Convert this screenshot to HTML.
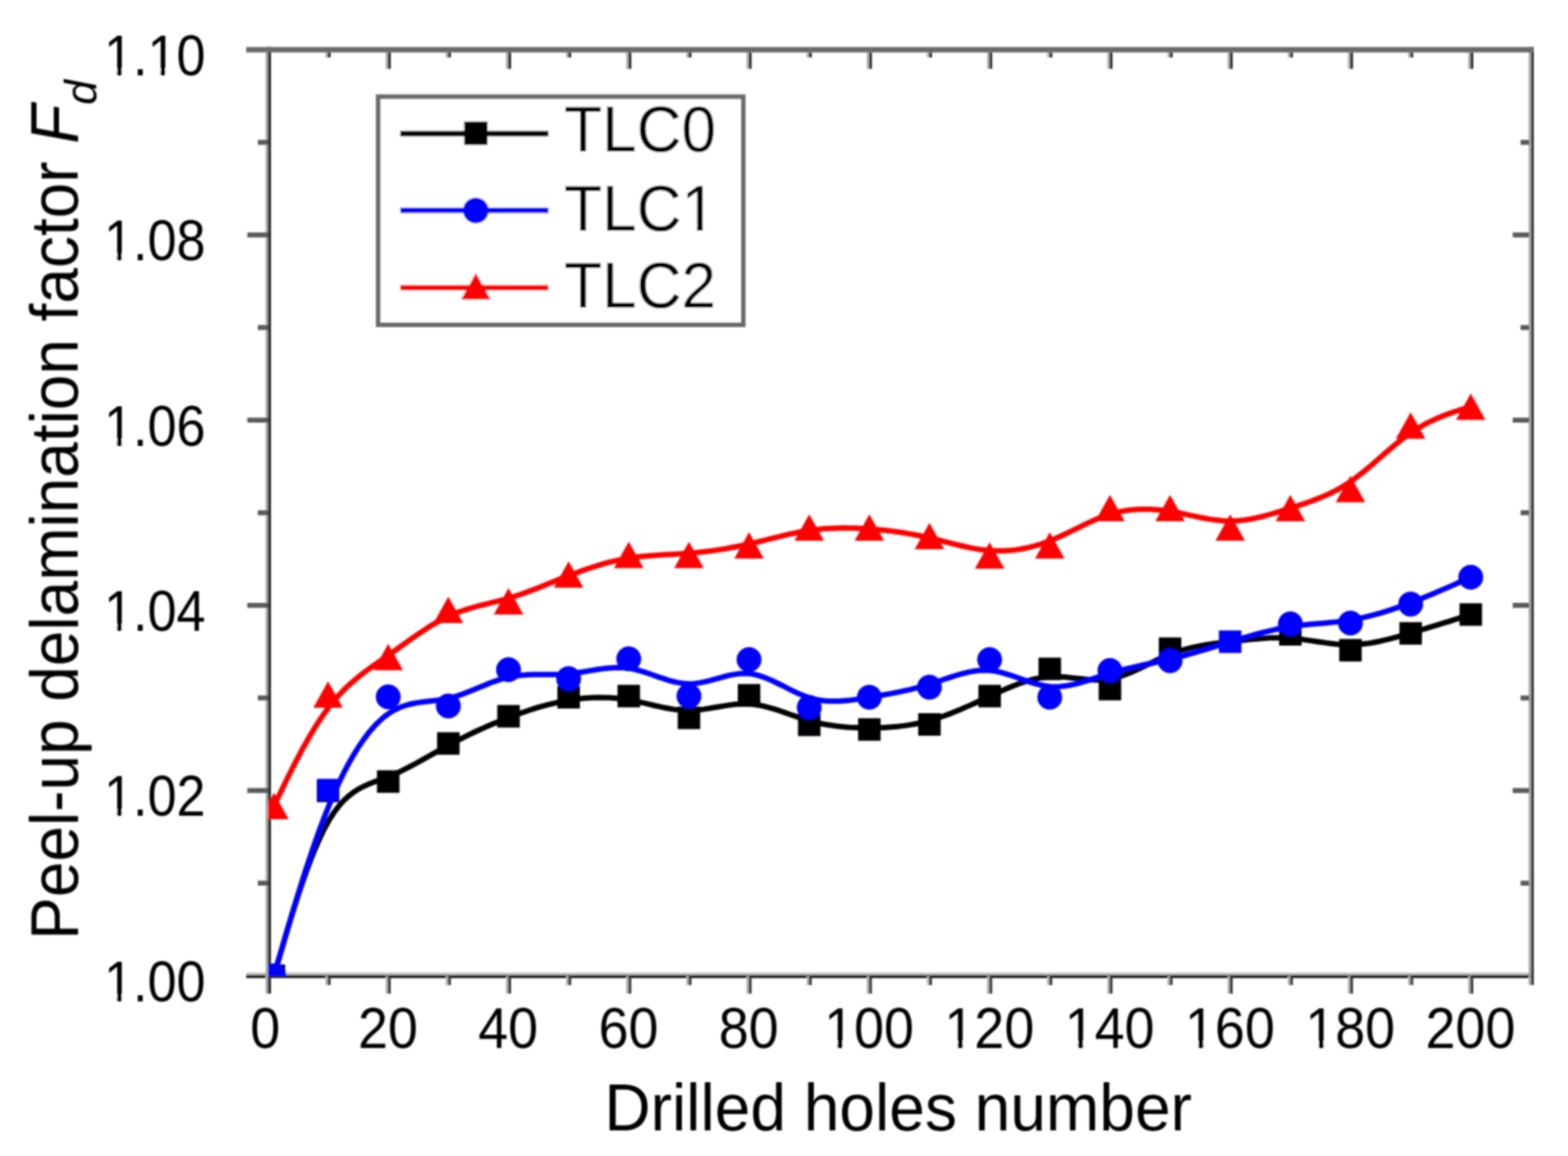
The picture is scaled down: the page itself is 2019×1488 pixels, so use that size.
<!DOCTYPE html>
<html><head><meta charset="utf-8"><title>Peel-up delamination factor vs drilled holes</title>
<style>html,body{margin:0;padding:0;background:#fff;overflow:hidden}svg{display:block}</style></head>
<body><svg width="2019" height="1488" viewBox="0 0 2019 1488">
<defs><filter id="soft" filterUnits="userSpaceOnUse" x="0" y="0" width="2019" height="1488"><feGaussianBlur stdDeviation="1.2"/></filter></defs>
<rect width="2019" height="1488" fill="#fff"/>
<g filter="url(#soft)">
<rect x="317" y="1252" width="1658" height="3" fill="#bdbdbd"/>
<rect x="317" y="1255" width="1658" height="4" fill="#222"/>
<rect x="342" y="60.5" width="3" height="1218.5" fill="#aaa"/>
<rect x="345" y="60.5" width="4" height="1218.5" fill="#333"/>
<rect x="1968.3" y="60.5" width="3.2" height="1207.5" fill="#aaa"/>
<rect x="1971.5" y="60.5" width="3.5" height="1207.5" fill="#333"/>
<rect x="332" y="1133.6" width="13" height="6.4" fill="#5a5a5a"/>
<rect x="1958" y="1133.6" width="11" height="6.4" fill="#5a5a5a"/>
<rect x="318.5" y="1014.4" width="26.5" height="6.4" fill="#5a5a5a"/>
<rect x="1947.8" y="1014.4" width="21.200000000000045" height="6.4" fill="#5a5a5a"/>
<rect x="332" y="895.2" width="13" height="6.4" fill="#5a5a5a"/>
<rect x="1958" y="895.2" width="11" height="6.4" fill="#5a5a5a"/>
<rect x="318.5" y="776.0" width="26.5" height="6.4" fill="#5a5a5a"/>
<rect x="1947.8" y="776.0" width="21.200000000000045" height="6.4" fill="#5a5a5a"/>
<rect x="332" y="656.8" width="13" height="6.4" fill="#5a5a5a"/>
<rect x="1958" y="656.8" width="11" height="6.4" fill="#5a5a5a"/>
<rect x="318.5" y="537.6" width="26.5" height="6.4" fill="#5a5a5a"/>
<rect x="1947.8" y="537.6" width="21.200000000000045" height="6.4" fill="#5a5a5a"/>
<rect x="332" y="418.4" width="13" height="6.4" fill="#5a5a5a"/>
<rect x="1958" y="418.4" width="11" height="6.4" fill="#5a5a5a"/>
<rect x="318.5" y="299.2" width="26.5" height="6.4" fill="#5a5a5a"/>
<rect x="1947.8" y="299.2" width="21.200000000000045" height="6.4" fill="#5a5a5a"/>
<rect x="332" y="180.0" width="13" height="6.4" fill="#5a5a5a"/>
<rect x="1958" y="180.0" width="11" height="6.4" fill="#5a5a5a"/>
<rect x="419.2" y="1256" width="3" height="12" fill="#aaa"/>
<rect x="422.2" y="1256" width="3.4" height="12" fill="#333"/>
<rect x="419.2" y="67.5" width="3" height="6.5" fill="#aaa"/>
<rect x="422.2" y="67.5" width="3.4" height="6.5" fill="#222"/>
<rect x="496.7" y="1256" width="3" height="23" fill="#aaa"/>
<rect x="499.7" y="1256" width="3.4" height="23" fill="#333"/>
<rect x="496.7" y="67.5" width="3" height="21.099999999999994" fill="#aaa"/>
<rect x="499.7" y="67.5" width="3.4" height="21.099999999999994" fill="#222"/>
<rect x="574.1" y="1256" width="3" height="12" fill="#aaa"/>
<rect x="577.1" y="1256" width="3.4" height="12" fill="#333"/>
<rect x="574.1" y="67.5" width="3" height="6.5" fill="#aaa"/>
<rect x="577.1" y="67.5" width="3.4" height="6.5" fill="#222"/>
<rect x="651.6" y="1256" width="3" height="23" fill="#aaa"/>
<rect x="654.6" y="1256" width="3.4" height="23" fill="#333"/>
<rect x="651.6" y="67.5" width="3" height="21.099999999999994" fill="#aaa"/>
<rect x="654.6" y="67.5" width="3.4" height="21.099999999999994" fill="#222"/>
<rect x="729.0" y="1256" width="3" height="12" fill="#aaa"/>
<rect x="732.0" y="1256" width="3.4" height="12" fill="#333"/>
<rect x="729.0" y="67.5" width="3" height="6.5" fill="#aaa"/>
<rect x="732.0" y="67.5" width="3.4" height="6.5" fill="#222"/>
<rect x="806.4" y="1256" width="3" height="23" fill="#aaa"/>
<rect x="809.4" y="1256" width="3.4" height="23" fill="#333"/>
<rect x="806.4" y="67.5" width="3" height="21.099999999999994" fill="#aaa"/>
<rect x="809.4" y="67.5" width="3.4" height="21.099999999999994" fill="#222"/>
<rect x="883.9" y="1256" width="3" height="12" fill="#aaa"/>
<rect x="886.9" y="1256" width="3.4" height="12" fill="#333"/>
<rect x="883.9" y="67.5" width="3" height="6.5" fill="#aaa"/>
<rect x="886.9" y="67.5" width="3.4" height="6.5" fill="#222"/>
<rect x="961.3" y="1256" width="3" height="23" fill="#aaa"/>
<rect x="964.3" y="1256" width="3.4" height="23" fill="#333"/>
<rect x="961.3" y="67.5" width="3" height="21.099999999999994" fill="#aaa"/>
<rect x="964.3" y="67.5" width="3.4" height="21.099999999999994" fill="#222"/>
<rect x="1038.8" y="1256" width="3" height="12" fill="#aaa"/>
<rect x="1041.8" y="1256" width="3.4" height="12" fill="#333"/>
<rect x="1038.8" y="67.5" width="3" height="6.5" fill="#aaa"/>
<rect x="1041.8" y="67.5" width="3.4" height="6.5" fill="#222"/>
<rect x="1116.2" y="1256" width="3" height="23" fill="#aaa"/>
<rect x="1119.2" y="1256" width="3.4" height="23" fill="#333"/>
<rect x="1116.2" y="67.5" width="3" height="21.099999999999994" fill="#aaa"/>
<rect x="1119.2" y="67.5" width="3.4" height="21.099999999999994" fill="#222"/>
<rect x="1193.6" y="1256" width="3" height="12" fill="#aaa"/>
<rect x="1196.6" y="1256" width="3.4" height="12" fill="#333"/>
<rect x="1193.6" y="67.5" width="3" height="6.5" fill="#aaa"/>
<rect x="1196.6" y="67.5" width="3.4" height="6.5" fill="#222"/>
<rect x="1271.1" y="1256" width="3" height="23" fill="#aaa"/>
<rect x="1274.1" y="1256" width="3.4" height="23" fill="#333"/>
<rect x="1271.1" y="67.5" width="3" height="21.099999999999994" fill="#aaa"/>
<rect x="1274.1" y="67.5" width="3.4" height="21.099999999999994" fill="#222"/>
<rect x="1348.5" y="1256" width="3" height="12" fill="#aaa"/>
<rect x="1351.5" y="1256" width="3.4" height="12" fill="#333"/>
<rect x="1348.5" y="67.5" width="3" height="6.5" fill="#aaa"/>
<rect x="1351.5" y="67.5" width="3.4" height="6.5" fill="#222"/>
<rect x="1426.0" y="1256" width="3" height="23" fill="#aaa"/>
<rect x="1429.0" y="1256" width="3.4" height="23" fill="#333"/>
<rect x="1426.0" y="67.5" width="3" height="21.099999999999994" fill="#aaa"/>
<rect x="1429.0" y="67.5" width="3.4" height="21.099999999999994" fill="#222"/>
<rect x="1503.4" y="1256" width="3" height="12" fill="#aaa"/>
<rect x="1506.4" y="1256" width="3.4" height="12" fill="#333"/>
<rect x="1503.4" y="67.5" width="3" height="6.5" fill="#aaa"/>
<rect x="1506.4" y="67.5" width="3.4" height="6.5" fill="#222"/>
<rect x="1580.8" y="1256" width="3" height="23" fill="#aaa"/>
<rect x="1583.8" y="1256" width="3.4" height="23" fill="#333"/>
<rect x="1580.8" y="67.5" width="3" height="21.099999999999994" fill="#aaa"/>
<rect x="1583.8" y="67.5" width="3.4" height="21.099999999999994" fill="#222"/>
<rect x="1658.3" y="1256" width="3" height="12" fill="#aaa"/>
<rect x="1661.3" y="1256" width="3.4" height="12" fill="#333"/>
<rect x="1658.3" y="67.5" width="3" height="6.5" fill="#aaa"/>
<rect x="1661.3" y="67.5" width="3.4" height="6.5" fill="#222"/>
<rect x="1735.7" y="1256" width="3" height="23" fill="#aaa"/>
<rect x="1738.7" y="1256" width="3.4" height="23" fill="#333"/>
<rect x="1735.7" y="67.5" width="3" height="21.099999999999994" fill="#aaa"/>
<rect x="1738.7" y="67.5" width="3.4" height="21.099999999999994" fill="#222"/>
<rect x="1813.2" y="1256" width="3" height="12" fill="#aaa"/>
<rect x="1816.2" y="1256" width="3.4" height="12" fill="#333"/>
<rect x="1813.2" y="67.5" width="3" height="6.5" fill="#aaa"/>
<rect x="1816.2" y="67.5" width="3.4" height="6.5" fill="#222"/>
<rect x="1890.6" y="1256" width="3" height="23" fill="#aaa"/>
<rect x="1893.6" y="1256" width="3.4" height="23" fill="#333"/>
<rect x="1890.6" y="67.5" width="3" height="21.099999999999994" fill="#aaa"/>
<rect x="1893.6" y="67.5" width="3.4" height="21.099999999999994" fill="#222"/>
<rect x="317" y="60.5" width="1658" height="7" fill="#6b6b6b"/>
<defs><clipPath id="pc"><rect x="345" y="64" width="1627" height="1192"/></clipPath></defs>
<g clip-path="url(#pc)">
<path d="M352.7,1256.0 L352.8,1256.0 L352.8,1255.8 L352.9,1255.4 L353.2,1254.5 L353.6,1253.1 L354.2,1251.0 L355.0,1248.1 L356.2,1244.2 L357.6,1239.3 L359.5,1233.0 L361.7,1225.4 L364.4,1216.3 L367.5,1205.6 L371.1,1193.6 L375.1,1180.4 L379.5,1166.3 L384.2,1151.7 L389.2,1136.8 L394.5,1121.8 L400.0,1107.0 L405.7,1092.8 L411.6,1079.3 L417.6,1066.8 L423.7,1055.7 L429.9,1046.0 L436.1,1037.8 L442.3,1030.8 L448.6,1024.9 L455.0,1020.0 L461.3,1015.9 L467.7,1012.5 L474.1,1009.6 L480.5,1007.0 L487.0,1004.6 L493.4,1002.3 L499.9,999.8 L506.3,997.2 L512.8,994.3 L519.2,991.2 L525.7,987.9 L532.1,984.5 L538.6,981.0 L545.1,977.4 L551.5,973.8 L558.0,970.1 L564.4,966.5 L570.9,962.9 L577.3,959.3 L583.8,955.9 L590.2,952.5 L596.7,949.3 L603.1,946.1 L609.6,943.0 L616.0,940.0 L622.5,937.1 L628.9,934.3 L635.4,931.5 L641.9,928.9 L648.3,926.3 L654.8,923.8 L661.2,921.3 L667.7,918.9 L674.1,916.7 L680.6,914.5 L687.0,912.4 L693.5,910.4 L699.9,908.6 L706.4,906.9 L712.8,905.3 L719.3,903.8 L725.7,902.5 L732.2,901.3 L738.7,900.3 L745.1,899.5 L751.6,898.8 L758.0,898.3 L764.5,898.0 L770.9,897.8 L777.4,897.9 L783.8,898.1 L790.3,898.5 L796.7,899.1 L803.2,899.9 L809.6,900.9 L816.1,902.1 L822.5,903.5 L829.0,904.9 L835.5,906.4 L841.9,908.0 L848.4,909.4 L854.8,910.8 L861.3,912.0 L867.7,913.1 L874.2,913.9 L880.6,914.4 L887.1,914.5 L893.5,914.3 L900.0,913.7 L906.4,912.9 L912.9,911.9 L919.3,910.8 L925.8,909.7 L932.3,908.6 L938.7,907.6 L945.2,906.8 L951.6,906.3 L958.1,906.0 L964.5,906.2 L971.0,906.8 L977.4,907.8 L983.9,909.1 L990.3,910.8 L996.8,912.7 L1003.2,914.7 L1009.7,916.9 L1016.1,919.2 L1022.6,921.4 L1029.1,923.6 L1035.5,925.7 L1042.0,927.7 L1048.4,929.4 L1054.9,930.9 L1061.3,932.2 L1067.8,933.3 L1074.2,934.3 L1080.7,935.1 L1087.1,935.7 L1093.6,936.2 L1100.0,936.5 L1106.5,936.8 L1112.9,936.9 L1119.4,936.9 L1125.9,936.9 L1132.3,936.7 L1138.8,936.4 L1145.2,936.0 L1151.7,935.5 L1158.1,934.9 L1164.6,934.1 L1171.0,933.1 L1177.5,932.0 L1183.9,930.7 L1190.4,929.2 L1196.8,927.5 L1203.3,925.6 L1209.7,923.5 L1216.2,921.3 L1222.7,918.9 L1229.1,916.3 L1235.6,913.7 L1242.0,910.9 L1248.5,908.1 L1254.9,905.2 L1261.4,902.2 L1267.8,899.2 L1274.3,896.2 L1280.7,893.3 L1287.2,890.4 L1293.6,887.5 L1300.1,884.8 L1306.5,882.2 L1313.0,879.8 L1319.5,877.6 L1325.9,875.7 L1332.4,874.0 L1338.8,872.7 L1345.3,871.7 L1351.7,871.2 L1358.2,871.0 L1364.6,871.2 L1371.1,871.6 L1377.5,872.2 L1384.0,872.9 L1390.4,873.6 L1396.9,874.3 L1403.3,874.9 L1409.8,875.2 L1416.3,875.2 L1422.7,874.8 L1429.2,874.0 L1435.6,872.7 L1442.1,870.8 L1448.5,868.6 L1455.0,866.1 L1461.4,863.3 L1467.9,860.3 L1474.3,857.1 L1480.8,854.0 L1487.2,850.8 L1493.7,847.8 L1500.1,844.8 L1506.6,842.2 L1513.1,839.8 L1519.5,837.6 L1526.0,835.8 L1532.4,834.1 L1538.9,832.7 L1545.3,831.4 L1551.8,830.3 L1558.2,829.2 L1564.7,828.3 L1571.1,827.5 L1577.6,826.7 L1584.0,825.9 L1590.5,825.1 L1596.9,824.4 L1603.4,823.7 L1609.9,823.0 L1616.3,822.4 L1622.8,821.9 L1629.2,821.4 L1635.7,821.1 L1642.1,821.0 L1648.6,821.0 L1655.0,821.1 L1661.5,821.5 L1667.9,822.1 L1674.4,822.8 L1680.8,823.6 L1687.3,824.6 L1693.7,825.5 L1700.2,826.5 L1706.7,827.4 L1713.1,828.3 L1719.6,829.0 L1726.0,829.5 L1732.5,829.9 L1738.9,830.0 L1745.4,829.8 L1751.8,829.3 L1758.3,828.6 L1764.7,827.7 L1771.2,826.5 L1777.6,825.2 L1784.1,823.7 L1790.5,822.1 L1797.0,820.4 L1803.5,818.6 L1809.9,816.8 L1816.4,814.9 L1822.8,812.9 L1829.2,811.0 L1835.5,809.1 L1841.7,807.2 L1847.7,805.4 L1853.5,803.6 L1859.0,801.9 L1864.2,800.3 L1869.0,798.8 L1873.4,797.4 L1877.4,796.1 L1880.9,795.0 L1884.1,794.0 L1886.7,793.2 L1888.8,792.6 L1890.5,792.0 L1891.7,791.7 L1892.6,791.4 L1893.2,791.2 L1893.5,791.1 L1893.7,791.0 L1893.8,791.0 L1893.8,791.0" fill="none" stroke="#000" stroke-width="7" stroke-linejoin="round"/>
<rect x="338.2" y="1241.5" width="29" height="29" fill="#000"/>
<rect x="407.9" y="1003.5" width="29" height="29" fill="#000"/>
<rect x="485.4" y="991.5" width="29" height="29" fill="#000"/>
<rect x="562.8" y="942.5" width="29" height="29" fill="#000"/>
<rect x="640.3" y="907.5" width="29" height="29" fill="#000"/>
<rect x="717.7" y="883.0" width="29" height="29" fill="#000"/>
<rect x="795.1" y="881.5" width="29" height="29" fill="#000"/>
<rect x="872.6" y="909.5" width="29" height="29" fill="#000"/>
<rect x="950.0" y="880.5" width="29" height="29" fill="#000"/>
<rect x="1027.5" y="918.5" width="29" height="29" fill="#000"/>
<rect x="1104.9" y="924.5" width="29" height="29" fill="#000"/>
<rect x="1182.3" y="918.0" width="29" height="29" fill="#000"/>
<rect x="1259.8" y="881.5" width="29" height="29" fill="#000"/>
<rect x="1337.2" y="846.5" width="29" height="29" fill="#000"/>
<rect x="1414.7" y="872.5" width="29" height="29" fill="#000"/>
<rect x="1492.1" y="820.5" width="29" height="29" fill="#000"/>
<rect x="1569.5" y="811.5" width="29" height="29" fill="#000"/>
<rect x="1647.0" y="802.0" width="29" height="29" fill="#000"/>
<rect x="1724.4" y="822.5" width="29" height="29" fill="#000"/>
<rect x="1801.9" y="800.8" width="29" height="29" fill="#000"/>
<rect x="1879.3" y="776.5" width="29" height="29" fill="#000"/>
<path d="M352.7,1256.0 L352.8,1256.0 L352.8,1255.8 L352.9,1255.4 L353.2,1254.5 L353.6,1253.1 L354.2,1251.0 L355.0,1248.1 L356.2,1244.2 L357.6,1239.2 L359.5,1232.9 L361.7,1225.3 L364.4,1216.1 L367.5,1205.3 L371.1,1193.1 L375.1,1179.6 L379.5,1165.1 L384.2,1149.7 L389.2,1133.8 L394.5,1117.4 L400.0,1100.8 L405.7,1084.2 L411.6,1067.8 L417.6,1051.8 L423.7,1036.5 L429.9,1022.0 L436.1,1008.3 L442.3,995.4 L448.6,983.4 L455.0,972.3 L461.3,962.0 L467.7,952.6 L474.1,944.1 L480.5,936.4 L487.0,929.7 L493.4,923.8 L499.9,918.9 L506.3,914.8 L512.8,911.6 L519.2,909.0 L525.7,907.0 L532.1,905.5 L538.6,904.4 L545.1,903.5 L551.5,902.7 L558.0,902.0 L564.4,901.2 L570.9,900.2 L577.3,899.0 L583.8,897.3 L590.2,895.3 L596.7,893.1 L603.1,890.6 L609.6,888.0 L616.0,885.3 L622.5,882.7 L628.9,880.1 L635.4,877.6 L641.9,875.4 L648.3,873.4 L654.8,871.7 L661.2,870.4 L667.7,869.5 L674.1,868.9 L680.6,868.5 L687.0,868.3 L693.5,868.2 L699.9,868.2 L706.4,868.2 L712.8,868.2 L719.3,868.1 L725.7,867.8 L732.2,867.3 L738.7,866.6 L745.1,865.7 L751.6,864.7 L758.0,863.6 L764.5,862.5 L770.9,861.5 L777.4,860.6 L783.8,859.9 L790.3,859.4 L796.7,859.3 L803.2,859.6 L809.6,860.2 L816.1,861.4 L822.5,863.0 L829.0,864.9 L835.5,867.0 L841.9,869.3 L848.4,871.6 L854.8,873.7 L861.3,875.8 L867.7,877.5 L874.2,878.9 L880.6,879.8 L887.1,880.2 L893.5,879.9 L900.0,879.1 L906.4,877.9 L912.9,876.3 L919.3,874.6 L925.8,872.8 L932.3,871.0 L938.7,869.4 L945.2,868.1 L951.6,867.2 L958.1,866.8 L964.5,867.1 L971.0,868.0 L977.4,869.7 L983.9,871.8 L990.3,874.4 L996.8,877.3 L1003.2,880.5 L1009.7,883.7 L1016.1,887.0 L1022.6,890.2 L1029.1,893.1 L1035.5,895.8 L1042.0,898.1 L1048.4,899.9 L1054.9,901.1 L1061.3,902.0 L1067.8,902.5 L1074.2,902.6 L1080.7,902.5 L1087.1,902.0 L1093.6,901.4 L1100.0,900.6 L1106.5,899.6 L1112.9,898.6 L1119.4,897.5 L1125.9,896.4 L1132.3,895.3 L1138.8,894.2 L1145.2,893.1 L1151.7,891.9 L1158.1,890.6 L1164.6,889.2 L1171.0,887.8 L1177.5,886.2 L1183.9,884.6 L1190.4,882.8 L1196.8,880.8 L1203.3,878.7 L1209.7,876.5 L1216.2,874.3 L1222.7,872.1 L1229.1,870.0 L1235.6,868.1 L1242.0,866.3 L1248.5,864.9 L1254.9,863.8 L1261.4,863.0 L1267.8,862.8 L1274.3,863.0 L1280.7,863.8 L1287.2,865.1 L1293.6,866.8 L1300.1,868.8 L1306.5,871.0 L1313.0,873.3 L1319.5,875.6 L1325.9,877.8 L1332.4,879.8 L1338.8,881.5 L1345.3,882.8 L1351.7,883.7 L1358.2,884.0 L1364.6,883.8 L1371.1,883.1 L1377.5,882.0 L1384.0,880.6 L1390.4,879.0 L1396.9,877.1 L1403.3,875.1 L1409.8,872.9 L1416.3,870.8 L1422.7,868.7 L1429.2,866.6 L1435.6,864.8 L1442.1,863.0 L1448.5,861.4 L1455.0,859.8 L1461.4,858.3 L1467.9,856.9 L1474.3,855.5 L1480.8,854.2 L1487.2,852.8 L1493.7,851.4 L1500.1,849.9 L1506.6,848.4 L1513.1,846.9 L1519.5,845.2 L1526.0,843.5 L1532.4,841.7 L1538.9,839.9 L1545.3,838.0 L1551.8,836.1 L1558.2,834.1 L1564.7,832.2 L1571.1,830.2 L1577.6,828.2 L1584.0,826.2 L1590.5,824.3 L1596.9,822.3 L1603.4,820.4 L1609.9,818.5 L1616.3,816.7 L1622.8,815.0 L1629.2,813.3 L1635.7,811.8 L1642.1,810.3 L1648.6,809.0 L1655.0,807.7 L1661.5,806.7 L1667.9,805.7 L1674.4,804.9 L1680.8,804.2 L1687.3,803.6 L1693.7,803.0 L1700.2,802.5 L1706.7,801.9 L1713.1,801.3 L1719.6,800.7 L1726.0,799.9 L1732.5,799.1 L1738.9,798.1 L1745.4,797.0 L1751.8,795.7 L1758.3,794.2 L1764.7,792.6 L1771.2,790.9 L1777.6,789.1 L1784.1,787.1 L1790.5,785.1 L1797.0,782.9 L1803.5,780.7 L1809.9,778.3 L1816.4,775.9 L1822.8,773.4 L1829.2,770.9 L1835.5,768.3 L1841.7,765.8 L1847.7,763.3 L1853.5,760.8 L1859.0,758.4 L1864.2,756.2 L1869.0,754.1 L1873.4,752.1 L1877.4,750.3 L1880.9,748.8 L1884.1,747.3 L1886.7,746.2 L1888.8,745.2 L1890.5,744.5 L1891.7,743.9 L1892.6,743.5 L1893.2,743.3 L1893.5,743.1 L1893.7,743.0 L1893.8,743.0 L1893.8,743.0" fill="none" stroke="#00f" stroke-width="7" stroke-linejoin="round"/>
<circle cx="352.7" cy="1256.0" r="16" fill="#00f"/>
<rect x="408.4" y="1002.5" width="28" height="28" fill="#00f"/>
<circle cx="499.9" cy="897.0" r="16" fill="#00f"/>
<circle cx="577.3" cy="908.7" r="16" fill="#00f"/>
<circle cx="654.8" cy="862.0" r="16" fill="#00f"/>
<circle cx="732.2" cy="873.5" r="16" fill="#00f"/>
<circle cx="809.6" cy="848.0" r="16" fill="#00f"/>
<circle cx="887.1" cy="896.0" r="16" fill="#00f"/>
<circle cx="964.5" cy="849.0" r="16" fill="#00f"/>
<circle cx="1042.0" cy="910.5" r="16" fill="#00f"/>
<circle cx="1119.4" cy="897.5" r="16" fill="#00f"/>
<circle cx="1196.8" cy="884.6" r="16" fill="#00f"/>
<circle cx="1274.3" cy="849.0" r="16" fill="#00f"/>
<circle cx="1351.7" cy="897.5" r="16" fill="#00f"/>
<circle cx="1429.2" cy="863.0" r="16" fill="#00f"/>
<circle cx="1506.6" cy="850.4" r="16" fill="#00f"/>
<rect x="1570.0" y="812.0" width="28" height="28" fill="#00f"/>
<circle cx="1661.5" cy="803.0" r="16" fill="#00f"/>
<circle cx="1738.9" cy="802.0" r="16" fill="#00f"/>
<circle cx="1816.4" cy="777.6" r="16" fill="#00f"/>
<circle cx="1893.8" cy="743.0" r="16" fill="#00f"/>
<path d="M352.7,1037.5 L352.8,1037.5 L352.8,1037.4 L352.9,1037.1 L353.2,1036.6 L353.6,1035.8 L354.2,1034.5 L355.0,1032.8 L356.2,1030.4 L357.6,1027.4 L359.5,1023.7 L361.7,1019.1 L364.4,1013.6 L367.5,1007.1 L371.1,999.8 L375.1,991.8 L379.5,983.2 L384.2,974.1 L389.2,964.7 L394.5,955.2 L400.0,945.6 L405.7,936.2 L411.6,927.0 L417.6,918.2 L423.7,909.9 L429.9,902.2 L436.1,895.1 L442.3,888.6 L448.6,882.5 L455.0,876.9 L461.3,871.6 L467.7,866.6 L474.1,861.8 L480.5,857.2 L487.0,852.6 L493.4,848.1 L499.9,843.6 L506.3,839.1 L512.8,834.4 L519.2,829.8 L525.7,825.2 L532.1,820.6 L538.6,816.1 L545.1,811.8 L551.5,807.6 L558.0,803.6 L564.4,799.9 L570.9,796.4 L577.3,793.3 L583.8,790.5 L590.2,787.9 L596.7,785.7 L603.1,783.6 L609.6,781.8 L616.0,780.0 L622.5,778.4 L628.9,776.8 L635.4,775.2 L641.9,773.6 L648.3,771.9 L654.8,770.1 L661.2,768.1 L667.7,766.0 L674.1,763.7 L680.6,761.4 L687.0,759.0 L693.5,756.5 L699.9,753.9 L706.4,751.3 L712.8,748.7 L719.3,746.1 L725.7,743.6 L732.2,741.0 L738.7,738.6 L745.1,736.2 L751.6,733.9 L758.0,731.7 L764.5,729.6 L770.9,727.6 L777.4,725.7 L783.8,723.9 L790.3,722.3 L796.7,720.9 L803.2,719.6 L809.6,718.4 L816.1,717.4 L822.5,716.6 L829.0,715.9 L835.5,715.4 L841.9,714.9 L848.4,714.5 L854.8,714.1 L861.3,713.8 L867.7,713.4 L874.2,713.0 L880.6,712.6 L887.1,712.2 L893.5,711.6 L900.0,711.0 L906.4,710.3 L912.9,709.5 L919.3,708.6 L925.8,707.6 L932.3,706.6 L938.7,705.5 L945.2,704.3 L951.6,703.0 L958.1,701.6 L964.5,700.2 L971.0,698.7 L977.4,697.1 L983.9,695.6 L990.3,693.9 L996.8,692.3 L1003.2,690.8 L1009.7,689.2 L1016.1,687.7 L1022.6,686.3 L1029.1,685.0 L1035.5,683.9 L1042.0,682.8 L1048.4,682.0 L1054.9,681.2 L1061.3,680.6 L1067.8,680.2 L1074.2,679.9 L1080.7,679.7 L1087.1,679.6 L1093.6,679.7 L1100.0,679.8 L1106.5,680.1 L1112.9,680.4 L1119.4,680.8 L1125.9,681.3 L1132.3,681.9 L1138.8,682.6 L1145.2,683.3 L1151.7,684.1 L1158.1,685.0 L1164.6,686.0 L1171.0,687.1 L1177.5,688.3 L1183.9,689.5 L1190.4,690.9 L1196.8,692.3 L1203.3,693.9 L1209.7,695.5 L1216.2,697.1 L1222.7,698.8 L1229.1,700.4 L1235.6,702.0 L1242.0,703.5 L1248.5,704.9 L1254.9,706.1 L1261.4,707.2 L1267.8,708.0 L1274.3,708.7 L1280.7,709.0 L1287.2,709.1 L1293.6,709.0 L1300.1,708.6 L1306.5,707.9 L1313.0,707.0 L1319.5,705.8 L1325.9,704.4 L1332.4,702.7 L1338.8,700.8 L1345.3,698.6 L1351.7,696.2 L1358.2,693.5 L1364.6,690.7 L1371.1,687.7 L1377.5,684.6 L1384.0,681.4 L1390.4,678.3 L1396.9,675.2 L1403.3,672.2 L1409.8,669.3 L1416.3,666.6 L1422.7,664.2 L1429.2,662.0 L1435.6,660.2 L1442.1,658.6 L1448.5,657.4 L1455.0,656.5 L1461.4,655.9 L1467.9,655.5 L1474.3,655.4 L1480.8,655.5 L1487.2,655.9 L1493.7,656.4 L1500.1,657.2 L1506.6,658.2 L1513.1,659.3 L1519.5,660.5 L1526.0,661.9 L1532.4,663.3 L1538.9,664.6 L1545.3,666.0 L1551.8,667.2 L1558.2,668.4 L1564.7,669.3 L1571.1,670.0 L1577.6,670.5 L1584.0,670.7 L1590.5,670.5 L1596.9,670.0 L1603.4,669.2 L1609.9,668.2 L1616.3,666.9 L1622.8,665.5 L1629.2,663.8 L1635.7,662.0 L1642.1,660.2 L1648.6,658.2 L1655.0,656.1 L1661.5,654.1 L1667.9,652.0 L1674.4,649.9 L1680.8,647.8 L1687.3,645.5 L1693.7,643.1 L1700.2,640.6 L1706.7,637.8 L1713.1,634.8 L1719.6,631.6 L1726.0,628.1 L1732.5,624.2 L1738.9,619.9 L1745.4,615.3 L1751.8,610.4 L1758.3,605.2 L1764.7,599.8 L1771.2,594.2 L1777.6,588.6 L1784.1,583.0 L1790.5,577.5 L1797.0,572.0 L1803.5,566.8 L1809.9,561.9 L1816.4,557.3 L1822.8,553.1 L1829.2,549.2 L1835.5,545.7 L1841.7,542.6 L1847.7,539.8 L1853.5,537.3 L1859.0,535.0 L1864.2,533.1 L1869.0,531.3 L1873.4,529.8 L1877.4,528.6 L1880.9,527.4 L1884.1,526.4 L1886.7,525.6 L1888.8,525.0 L1890.5,524.4 L1891.7,524.1 L1892.6,523.8 L1893.2,523.6 L1893.5,523.5 L1893.7,523.4 L1893.8,523.4 L1893.8,523.4" fill="none" stroke="#f00" stroke-width="7" stroke-linejoin="round"/>
<path d="M352.7,1020.5 L371.7,1054.5 L333.7,1054.5 Z" fill="#f00"/>
<path d="M422.4,877.0 L441.4,911.0 L403.4,911.0 Z" fill="#f00"/>
<path d="M499.9,828.7 L518.9,862.7 L480.9,862.7 Z" fill="#f00"/>
<path d="M577.3,768.0 L596.3,802.0 L558.3,802.0 Z" fill="#f00"/>
<path d="M654.8,757.0 L673.8,791.0 L635.8,791.0 Z" fill="#f00"/>
<path d="M732.2,722.5 L751.2,756.5 L713.2,756.5 Z" fill="#f00"/>
<path d="M809.6,697.2 L828.6,731.2 L790.6,731.2 Z" fill="#f00"/>
<path d="M887.1,697.2 L906.1,731.2 L868.1,731.2 Z" fill="#f00"/>
<path d="M964.5,685.0 L983.5,719.0 L945.5,719.0 Z" fill="#f00"/>
<path d="M1042.0,662.0 L1061.0,696.0 L1023.0,696.0 Z" fill="#f00"/>
<path d="M1119.4,662.0 L1138.4,696.0 L1100.4,696.0 Z" fill="#f00"/>
<path d="M1196.8,673.0 L1215.8,707.0 L1177.8,707.0 Z" fill="#f00"/>
<path d="M1274.3,698.0 L1293.3,732.0 L1255.3,732.0 Z" fill="#f00"/>
<path d="M1351.7,685.0 L1370.7,719.0 L1332.7,719.0 Z" fill="#f00"/>
<path d="M1429.2,637.0 L1448.2,671.0 L1410.2,671.0 Z" fill="#f00"/>
<path d="M1506.6,637.0 L1525.6,671.0 L1487.6,671.0 Z" fill="#f00"/>
<path d="M1584.0,662.0 L1603.0,696.0 L1565.0,696.0 Z" fill="#f00"/>
<path d="M1661.5,637.0 L1680.5,671.0 L1642.5,671.0 Z" fill="#f00"/>
<path d="M1738.9,612.5 L1757.9,646.5 L1719.9,646.5 Z" fill="#f00"/>
<path d="M1816.4,530.7 L1835.4,564.7 L1797.4,564.7 Z" fill="#f00"/>
<path d="M1893.8,506.4 L1912.8,540.4 L1874.8,540.4 Z" fill="#f00"/>
</g>
<rect x="487" y="124.5" width="470" height="293.5" fill="#fff" stroke="#6b6b6b" stroke-width="6"/>
<rect x="515.5" y="168.5" width="190.7" height="7" fill="#000"/>
<rect x="515.5" y="267.3" width="190.7" height="7" fill="#00f"/>
<rect x="515.5" y="366.8" width="190.7" height="7" fill="#f00"/>
<rect x="597.7" y="156.5" width="30" height="30" fill="#000"/>
<circle cx="612.7" cy="271" r="16.6" fill="#00f"/>
<path d="M612.7,351.5 L631.7,385.5 L593.7,385.5 Z" fill="#f00"/>
<text transform="translate(726.24,195.17) scale(0.9614,1)" font-size="83.33" text-anchor="start" fill="#000" font-family="Liberation Sans, Arial, sans-serif">TLC0</text>
<text transform="translate(726.24,297.47) scale(0.9614,1)" font-size="83.33" text-anchor="start" fill="#000" font-family="Liberation Sans, Arial, sans-serif">TLC1</text>
<text transform="translate(726.24,396.07) scale(0.9614,1)" font-size="83.33" text-anchor="start" fill="#000" font-family="Liberation Sans, Arial, sans-serif">TLC2</text>
<text transform="translate(264.64,1288.76) scale(0.9059,1)" font-size="74.15" text-anchor="end" fill="#000" font-family="Liberation Sans, Arial, sans-serif">1.00</text>
<text transform="translate(264.64,1050.36) scale(0.9059,1)" font-size="74.15" text-anchor="end" fill="#000" font-family="Liberation Sans, Arial, sans-serif">1.02</text>
<text transform="translate(264.64,811.96) scale(0.9059,1)" font-size="74.15" text-anchor="end" fill="#000" font-family="Liberation Sans, Arial, sans-serif">1.04</text>
<text transform="translate(264.64,573.56) scale(0.9059,1)" font-size="74.15" text-anchor="end" fill="#000" font-family="Liberation Sans, Arial, sans-serif">1.06</text>
<text transform="translate(264.64,335.16) scale(0.9059,1)" font-size="74.15" text-anchor="end" fill="#000" font-family="Liberation Sans, Arial, sans-serif">1.08</text>
<text transform="translate(264.64,96.76) scale(0.9059,1)" font-size="74.15" text-anchor="end" fill="#000" font-family="Liberation Sans, Arial, sans-serif">1.10</text>
<text transform="translate(341.58,1348.76) scale(0.9352,1)" font-size="74.15" text-anchor="middle" fill="#000" font-family="Liberation Sans, Arial, sans-serif">0</text>
<text transform="translate(499.46,1348.76) scale(0.9352,1)" font-size="74.15" text-anchor="middle" fill="#000" font-family="Liberation Sans, Arial, sans-serif">20</text>
<text transform="translate(654.34,1348.76) scale(0.9352,1)" font-size="74.15" text-anchor="middle" fill="#000" font-family="Liberation Sans, Arial, sans-serif">40</text>
<text transform="translate(809.22,1348.76) scale(0.9352,1)" font-size="74.15" text-anchor="middle" fill="#000" font-family="Liberation Sans, Arial, sans-serif">60</text>
<text transform="translate(964.10,1348.76) scale(0.9352,1)" font-size="74.15" text-anchor="middle" fill="#000" font-family="Liberation Sans, Arial, sans-serif">80</text>
<text transform="translate(1118.98,1348.76) scale(0.9352,1)" font-size="74.15" text-anchor="middle" fill="#000" font-family="Liberation Sans, Arial, sans-serif">100</text>
<text transform="translate(1273.86,1348.76) scale(0.9352,1)" font-size="74.15" text-anchor="middle" fill="#000" font-family="Liberation Sans, Arial, sans-serif">120</text>
<text transform="translate(1428.74,1348.76) scale(0.9352,1)" font-size="74.15" text-anchor="middle" fill="#000" font-family="Liberation Sans, Arial, sans-serif">140</text>
<text transform="translate(1583.62,1348.76) scale(0.9352,1)" font-size="74.15" text-anchor="middle" fill="#000" font-family="Liberation Sans, Arial, sans-serif">160</text>
<text transform="translate(1738.50,1348.76) scale(0.9352,1)" font-size="74.15" text-anchor="middle" fill="#000" font-family="Liberation Sans, Arial, sans-serif">180</text>
<text transform="translate(1893.38,1348.76) scale(0.9352,1)" font-size="74.15" text-anchor="middle" fill="#000" font-family="Liberation Sans, Arial, sans-serif">200</text>
<text transform="translate(778.23,1455.44) scale(0.9592,1)" font-size="86.01" text-anchor="start" fill="#000" font-family="Liberation Sans, Arial, sans-serif">Drilled holes number</text>
<text transform="translate(100,1209.75) rotate(-90) scale(0.9519,1)" font-size="86.48" fill="#000" font-family="Liberation Sans, Arial, sans-serif">Peel-up delamination factor <tspan font-style="italic">F</tspan></text>
<text transform="translate(123.92,134.95) rotate(-90) scale(0.9941,1)" font-size="57.82" font-style="italic" fill="#000" font-family="Liberation Sans, Arial, sans-serif">d</text>
<rect x="882.29" y="288.11" width="15.26" height="10.17" fill="#fff"/>
<rect x="905.02" y="288.11" width="14.44" height="10.17" fill="#fff"/>
<rect x="137.83" y="1280.43" width="12.79" height="9.05" fill="#fff"/>
<rect x="156.89" y="1280.43" width="12.10" height="9.05" fill="#fff"/>
<rect x="137.83" y="1042.03" width="12.79" height="9.05" fill="#fff"/>
<rect x="156.89" y="1042.03" width="12.10" height="9.05" fill="#fff"/>
<rect x="137.83" y="803.63" width="12.79" height="9.05" fill="#fff"/>
<rect x="156.89" y="803.63" width="12.10" height="9.05" fill="#fff"/>
<rect x="137.83" y="565.23" width="12.79" height="9.05" fill="#fff"/>
<rect x="156.89" y="565.23" width="12.10" height="9.05" fill="#fff"/>
<rect x="137.83" y="326.83" width="12.79" height="9.05" fill="#fff"/>
<rect x="156.89" y="326.83" width="12.10" height="9.05" fill="#fff"/>
<rect x="137.83" y="88.43" width="12.79" height="9.05" fill="#fff"/>
<rect x="156.89" y="88.43" width="12.10" height="9.05" fill="#fff"/>
<rect x="193.86" y="88.43" width="12.79" height="9.05" fill="#fff"/>
<rect x="212.91" y="88.43" width="12.10" height="9.05" fill="#fff"/>
<rect x="1065.20" y="1340.43" width="13.21" height="9.05" fill="#fff"/>
<rect x="1084.87" y="1340.43" width="12.49" height="9.05" fill="#fff"/>
<rect x="1220.08" y="1340.43" width="13.21" height="9.05" fill="#fff"/>
<rect x="1239.75" y="1340.43" width="12.49" height="9.05" fill="#fff"/>
<rect x="1374.96" y="1340.43" width="13.21" height="9.05" fill="#fff"/>
<rect x="1394.63" y="1340.43" width="12.49" height="9.05" fill="#fff"/>
<rect x="1529.84" y="1340.43" width="13.21" height="9.05" fill="#fff"/>
<rect x="1549.51" y="1340.43" width="12.49" height="9.05" fill="#fff"/>
<rect x="1684.72" y="1340.43" width="13.21" height="9.05" fill="#fff"/>
<rect x="1704.39" y="1340.43" width="12.49" height="9.05" fill="#fff"/>
</g></svg></body></html>
